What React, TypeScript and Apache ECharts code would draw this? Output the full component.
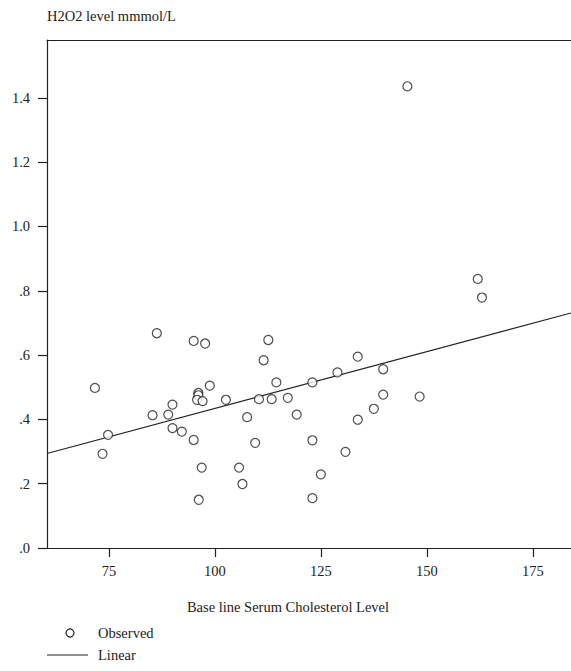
import React, { useEffect, useRef } from "react";
import * as echarts from "echarts";

const cholesterol = [
  71.7, 73.5, 74.8, 86.3, 85.3, 89.0, 90.0, 90.0, 92.2, 95.0, 97.7, 98.8, 96.1, 96.1, 95.8, 97.1,
  102.6, 95.0, 96.9, 96.2, 105.7, 112.6, 111.5, 114.5, 110.4, 113.4, 117.2, 107.6, 119.3, 123.0,
  128.9, 133.7, 139.7, 139.7, 137.5, 133.7, 109.5, 123.0, 130.8, 125.0, 106.5, 123.0, 162.0, 163.0,
  148.3, 145.4,
];
const h2o2 = [
  0.498, 0.293, 0.352, 0.668, 0.413, 0.415, 0.446, 0.373, 0.362, 0.644, 0.636, 0.505, 0.482, 0.475,
  0.461, 0.457, 0.461, 0.336, 0.25, 0.15, 0.25, 0.647, 0.584, 0.515, 0.463, 0.463, 0.467, 0.407,
  0.415, 0.515, 0.546, 0.595, 0.556, 0.477, 0.433, 0.399, 0.327, 0.335, 0.299, 0.229, 0.199, 0.155,
  0.837, 0.779, 0.471, 1.436,
];
const xTicks = [75, 100, 125, 150, 175];
const yTicks = [0, 0.2, 0.4, 0.6, 0.8, 1.0, 1.2, 1.4];
const yTickLabels = [".0", ".2", ".4", ".6", ".8", "1.0", "1.2", "1.4"];
const xRange = [60.4, 184];
const yRange = [0, 1.58];
const fitIntercept = 0.0804;
const fitSlope = 0.003536;

const yTitle = "H2O2 level mmmol/L";
const xTitle = "Base line Serum Cholesterol Level";
const legendObserved = "Observed";
const legendLinear = "Linear";

const FONT = "'Liberation Serif', 'Times New Roman', serif";
const INK = "#222222";
const FS = 14.5;

export default function App() {
  const ref = useRef<HTMLDivElement>(null);
  useEffect(() => {
    if (!ref.current) return;
    const chart = echarts.init(ref.current, undefined, { renderer: "svg" });
    const points = cholesterol.map((x, i) => [x, h2o2[i]]);
    const fit = xRange.map((x) => [x, fitIntercept + fitSlope * x]);
    chart.setOption({
      animation: false,
      backgroundColor: "#ffffff",
      grid: { left: 47, top: 40, right: 0, bottom: 123, containLabel: false },
      xAxis: [
        {
          type: "value",
          min: xRange[0],
          max: xRange[1],
          axisLine: { show: true, onZero: false, lineStyle: { color: INK, width: 1.2 } },
          axisTick: { show: true, length: 9, customValues: xTicks, lineStyle: { color: INK, width: 1.2 } },
          axisLabel: {
            customValues: xTicks,
            color: INK,
            fontFamily: FONT,
            fontSize: FS,
            margin: 15,
          },
          splitLine: { show: false },
        },
        {
          type: "value",
          position: "top",
          min: xRange[0],
          max: xRange[1],
          axisLine: { show: true, onZero: false, lineStyle: { color: INK, width: 1.2 } },
          axisTick: { show: false },
          axisLabel: { show: false },
          splitLine: { show: false },
        },
      ],
      yAxis: {
        type: "value",
        min: yRange[0],
        max: yRange[1],
        axisLine: { show: true, onZero: false, lineStyle: { color: INK, width: 1.2 } },
        axisTick: { show: true, length: 9, customValues: yTicks, lineStyle: { color: INK, width: 1.2 } },
        axisLabel: {
          customValues: yTicks,
          color: INK,
          fontFamily: FONT,
          fontSize: FS,
          margin: 17,
          formatter: (v: number) => {
            const i = yTicks.findIndex((t) => Math.abs(t - v) < 1e-6);
            return i >= 0 ? yTickLabels[i] : "";
          },
        },
        splitLine: { show: false },
      },
      series: [
        {
          type: "scatter",
          data: points,
          symbol: "circle",
          symbolSize: 9,
          itemStyle: { color: "#ffffff", borderColor: INK, borderWidth: 1.2 },
          z: 3,
        },
        {
          type: "line",
          data: fit,
          symbol: "none",
          lineStyle: { color: INK, width: 1.2 },
          z: 2,
        },
      ],
      graphic: [
        {
          type: "text",
          x: 47,
          y: 16,
          style: { text: yTitle, fill: INK, font: `${FS}px ${FONT}`, verticalAlign: "middle" },
        },
        {
          type: "text",
          x: 288,
          y: 607,
          style: { text: xTitle, fill: INK, font: `${FS}px ${FONT}`, align: "center", verticalAlign: "middle" },
        },
        {
          type: "circle",
          shape: { cx: 70, cy: 633, r: 4 },
          style: { fill: "#fff", stroke: INK, lineWidth: 1.2 },
        },
        {
          type: "text",
          x: 98,
          y: 633,
          style: { text: legendObserved, fill: INK, font: `${FS}px ${FONT}`, verticalAlign: "middle" },
        },
        {
          type: "line",
          shape: { x1: 47, y1: 655, x2: 88, y2: 655 },
          style: { stroke: INK, lineWidth: 1.2 },
        },
        {
          type: "text",
          x: 98,
          y: 655,
          style: { text: legendLinear, fill: INK, font: `${FS}px ${FONT}`, verticalAlign: "middle" },
        },
      ],
    });
    return () => chart.dispose();
  }, []);
  return (
    <div
      ref={ref}
      style={{ position: "fixed", left: 0, top: 0, width: 571, height: 671, background: "#fff" }}
    />
  );
}
